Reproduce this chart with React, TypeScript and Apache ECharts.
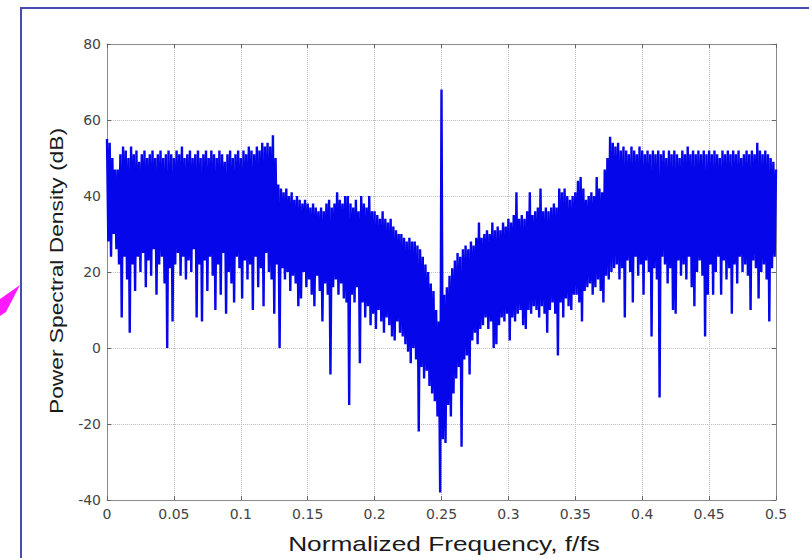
import React, { useEffect, useRef } from "react";
import * as echarts from "echarts";

// Frequency grid step (normalized frequency f/fs) and PSD values in dB
const FREQ_STEP = 0.001;
const PSD_DB = [
  55, 28, 54, 24, 50, 30, 47, 26, 47, 22,
  51, 8, 53, 24, 52, 18, 50, 4, 53, 22,
  51, 15, 52, 24, 49, 20, 51, 25, 52, 16,
  50, 23, 51, 19, 52, 26, 50, 14, 51, 22,
  52, 24, 50, 17, 51, 0, 52, 21, 51, 7,
  50, 22, 52, 25, 51, 19, 53, 24, 50, 18,
  51, 23, 52, 20, 50, 26, 51, 8, 52, 22,
  50, 7, 51, 23, 52, 15, 50, 24, 52, 19,
  51, 10, 50, 22, 52, 14, 51, 25, 49, 9,
  51, 20, 52, 17, 50, 12, 51, 24, 52, 21,
  50, 13, 52, 23, 51, 18, 53, 22, 52, 10,
  51, 24, 53, 16, 52, 21, 54, 11, 53, 25,
  54, 20, 53, 18, 56, 9, 50, 22, 43, 0,
  42, 21, 41, 18, 42, 20, 40, 15, 41, 19,
  39, 17, 40, 11, 39, 13, 38, 20, 39, 16,
  38, 18, 37, 14, 38, 11, 37, 19, 36, 15,
  37, 7, 36, 17, 38, 14, 39, -7, 37, 16,
  38, 18, 41, 14, 39, 17, 38, 13, 40, 12,
  40, -15, 38, 14, 37, 12, 39, 16, 36, -4,
  40, 12, 38, 8, 37, 11, 40, 6, 36, 9,
  36, 5, 35, 10, 34, 7, 36, 4, 34, 8,
  33, 6, 34, 3, 32, 2, 31, 7, 30, 4,
  30, 3, 29, 1, 28, -1, 29, -4, 28, 0,
  28, -3, 27, -22, 26, -5, 24, -8, 22, -6,
  20, -10, 17, -12, 15, -14, 10, -18, 7, -38,
  68, -24, 14, -25, 16, -15, 19, -18, 21, -12,
  23, -8, 25, -5, 24, -26, 26, -3, 27, -2,
  26, -7, 28, 2, 27, 4, 29, 1, 33, 5,
  29, 6, 30, 8, 31, 5, 30, 7, 33, 0,
  31, 1, 32, 6, 31, 8, 33, 7, 32, 9,
  34, 2, 33, 8, 35, 7, 41, 9, 34, 10,
  35, 6, 34, 5, 36, 10, 41, 9, 35, 11,
  36, 10, 37, 8, 42, 11, 36, 9, 37, 4,
  36, 10, 37, 12, 38, 9, 37, -2, 42, 12,
  41, 8, 42, 13, 40, 11, 39, 10, 40, 14,
  41, 14, 44, 12, 45, 7, 42, 15, 39, 16,
  40, 17, 41, 14, 40, 16, 45, 18, 42, 15,
  41, 12, 47, 19, 50, 18, 55.6, 20, 54, 21,
  53, 22, 54, 18, 52, 21, 53, 8, 52, 23,
  51, 20, 53, 12, 52, 24, 51, 19, 53, 22,
  52, 14, 51, 23, 52, 20, 51, 3, 52, 21,
  51, 18, 52, -13, 51, 24, 52, 22, 50, 17,
  52, 21, 51, 10, 52, 9, 51, 23, 50, 19,
  52, 22, 51, 18, 53, 24, 51, 16, 52, 11,
  51, 20, 52, 23, 51, 19, 52, 3, 51, 14,
  52, 22, 51, 14, 52, 20, 51, 24, 50, 14,
  52, 23, 51, 18, 52, 21, 51, 9, 52, 22,
  51, 17, 52, 24, 50, 20, 51, 22, 52, 19,
  51, 10, 52, 23, 51, 21, 54, 13, 52, 20,
  51, 22, 52, 18, 51, 7, 50, 21, 49, 24,
  47,
];

const X_MIN = 0;
const X_MAX = 0.5;
const X_INTERVAL = 0.05;
const Y_MIN = -40;
const Y_MAX = 80;
const Y_INTERVAL = 20;

const X_TITLE = "Normalized Frequency, f/fs";
const Y_TITLE = "Power Spectral Density (dB)";

export default function App() {
  const ref = useRef<HTMLDivElement>(null);

  useEffect(() => {
    if (!ref.current) return;
    const chart = echarts.init(ref.current, undefined, { renderer: "svg" });
    const labelFont = { color: "#444", fontSize: 14, fontFamily: "DejaVu Sans" };
    const boxLine = { show: true, onZero: false, lineStyle: { color: "#8a8a8a", width: 1 } };
    const tick = { show: true, inside: true, length: 4, lineStyle: { color: "#666" } };
    const grid = { show: true, lineStyle: { type: "dotted", color: "#bdbdbd", width: 1 } };

    chart.setOption({
      animation: false,
      backgroundColor: "#ffffff",
      grid: { left: 107, right: 33, top: 44, bottom: 58 },
      xAxis: [
        {
          type: "value",
          min: X_MIN,
          max: X_MAX,
          interval: X_INTERVAL,
          position: "bottom",
          axisLine: boxLine,
          axisTick: tick,
          splitLine: grid,
          axisLabel: {
            ...labelFont,
            margin: 7,
            formatter: (v: number) => String(+v.toFixed(2)),
          },
        },
        {
          type: "value",
          min: X_MIN,
          max: X_MAX,
          interval: X_INTERVAL,
          position: "top",
          axisLine: boxLine,
          axisTick: tick,
          splitLine: { show: false },
          axisLabel: { show: false },
        },
      ],
      yAxis: [
        {
          type: "value",
          min: Y_MIN,
          max: Y_MAX,
          interval: Y_INTERVAL,
          position: "left",
          axisLine: boxLine,
          axisTick: tick,
          splitLine: grid,
          axisLabel: { ...labelFont, margin: 6 },
        },
        {
          type: "value",
          min: Y_MIN,
          max: Y_MAX,
          interval: Y_INTERVAL,
          position: "right",
          axisLine: boxLine,
          axisTick: tick,
          splitLine: { show: false },
          axisLabel: { show: false },
        },
      ],
      series: [
        {
          type: "line",
          xAxisIndex: 0,
          yAxisIndex: 0,
          data: PSD_DB.map((v, i) => [i * FREQ_STEP, v]),
          showSymbol: false,
          symbol: "none",
          lineStyle: { color: "#0606ea", width: 2.4, join: "bevel" },
          z: 3,
        },
      ],
      graphic: [
        {
          type: "rect",
          shape: { x: 21, y: 8, width: 900, height: 700 },
          style: { fill: "none", stroke: "#4a4ab4", lineWidth: 2 },
          silent: true,
        },
        {
          type: "polygon",
          shape: { points: [[20, 285], [0, 299], [0, 316], [6, 312]] },
          style: { fill: "#ff1aff" },
          silent: true,
        },
        {
          type: "text",
          x: 56,
          y: 271,
          rotation: Math.PI / 2,
          scaleX: 1.2,
          style: {
            text: Y_TITLE,
            fontSize: 19,
            fontFamily: "Liberation Sans",
            fill: "#1a1a1a",
            align: "center",
            verticalAlign: "middle",
          },
        },
        {
          type: "text",
          x: 444,
          y: 543,
          scaleX: 1.25,
          style: {
            text: X_TITLE,
            fontSize: 21,
            fontFamily: "Liberation Sans",
            fill: "#1a1a1a",
            align: "center",
            verticalAlign: "middle",
          },
        },
      ],
    });
    return () => chart.dispose();
  }, []);

  return (
    <div
      ref={ref}
      style={{ position: "fixed", left: 0, top: 0, width: 809, height: 558, background: "#fff" }}
    />
  );
}
